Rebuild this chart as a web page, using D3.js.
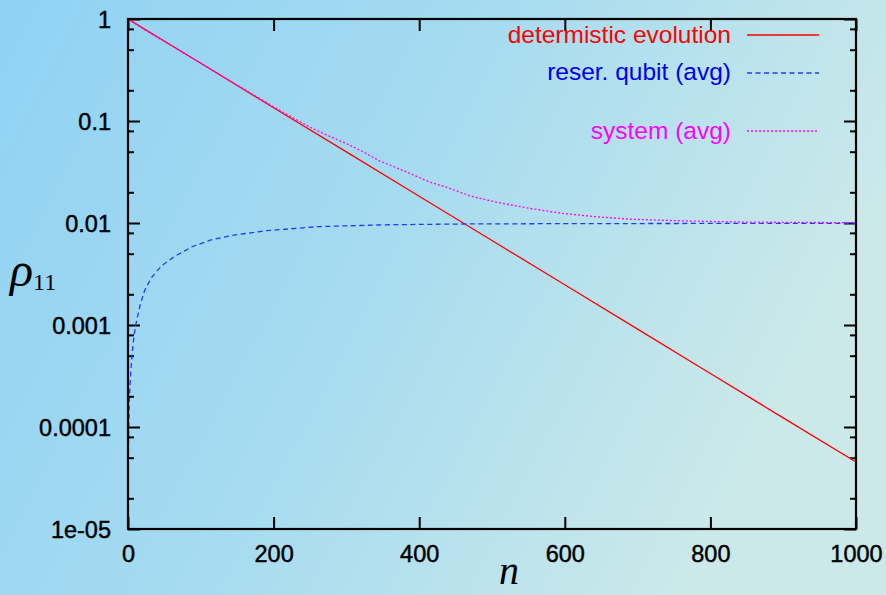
<!DOCTYPE html>
<html>
<head>
<meta charset="utf-8">
<script src="https://cdn.jsdelivr.net/npm/d3@7"></script>
<style>
  html, body { margin: 0; padding: 0; }
  svg { display: block; }
</style>
</head>
<body>
<svg id="chart" width="886" height="595"></svg>
<script>
// ---- data ----
const xTickValues = [0, 200, 400, 600, 800, 1000];
const yTickValues = [1e-5, 1e-4, 1e-3, 1e-2, 1e-1, 1];
const yTickLabels = ["1e-05", "0.0001", "0.001", "0.01", "0.1", "1"];
const yMinorTicks = [2e-5, 5e-5, 8e-5, 2e-4, 5e-4, 8e-4, 2e-3, 5e-3, 8e-3, 2e-2, 5e-2, 8e-2, 0.2, 0.5, 0.8];

const seriesNames = ["determistic evolution", "reser. qubit (avg)", "system (avg)"];

const nDet = [0, 100, 200, 300, 400, 500, 600, 700, 800, 900, 1000];
const vDet = [1, 0.368, 0.135, 0.0498, 0.0183, 0.00674, 0.00248, 0.000912, 0.000335, 0.000123, 0.0000454];

const nRes = [0.15, 0.5, 1, 2, 4, 7, 10, 13, 17, 23, 32, 46, 64, 88, 113, 145, 190, 260, 350, 460, 600, 800, 1000];
const vRes = [0.000012, 0.000048, 0.0001, 0.0002, 0.00037, 0.00066, 0.00095, 0.0012, 0.0016, 0.0022, 0.0029, 0.0038, 0.0047, 0.00585, 0.0068, 0.0076, 0.0084, 0.0092, 0.0096, 0.00978, 0.00986, 0.0099, 0.00992];

const nSys = [0, 23, 60, 100, 150, 170, 200, 229, 250, 275, 300, 320, 346, 370, 392, 415, 438, 470, 506, 552, 598, 644, 690, 758, 850, 1000];
const vSys = [1, 0.78, 0.545, 0.37, 0.225, 0.185, 0.138, 0.105, 0.087, 0.0718, 0.06, 0.0512, 0.0405, 0.0345, 0.0296, 0.0251, 0.0224, 0.0184, 0.016, 0.0139, 0.0124, 0.0115, 0.0109, 0.0105, 0.0102, 0.01007];

// ---- layout ----
const W = 886, H = 595;
const L = 128, R = 856, T = 19, B = 529;
const svg = d3.select("#chart");

const defs = svg.append("defs");
const grad = defs.append("linearGradient").attr("id", "bg")
  .attr("x1", 0).attr("y1", 0).attr("x2", 1).attr("y2", 0.35);
grad.append("stop").attr("offset", 0).attr("stop-color", "#90d2f4");
grad.append("stop").attr("offset", 0.5).attr("stop-color", "#a6dbf0");
grad.append("stop").attr("offset", 1).attr("stop-color", "#cbe9e9");
defs.append("clipPath").attr("id", "clip")
  .append("rect").attr("x", L).attr("y", T).attr("width", R - L).attr("height", B - T);

svg.append("rect").attr("width", W).attr("height", H).attr("fill", "url(#bg)");

const x = d3.scaleLinear().domain([0, 1000]).range([L, R]);
const y = d3.scaleLog().domain([1e-5, 1]).range([B, T]);

const tickFont = "'Liberation Sans', Arial, Helvetica, sans-serif";
const fs = 23.5;

function styleAxis(g) {
  g.select(".domain").remove();
  g.selectAll(".tick line").attr("stroke", "#000").attr("stroke-width", 2);
  g.selectAll(".tick text").attr("fill", "#000")
    .attr("stroke", "#000").attr("stroke-width", 0.45)
    .style("font-family", tickFont).style("font-size", fs + "px");
}

// bottom axis with labels
svg.append("g").attr("transform", `translate(0,${B})`)
  .call(d3.axisBottom(x).tickValues(xTickValues).tickSizeInner(-12).tickSizeOuter(0)
    .tickPadding(16).tickFormat(d3.format("d")))
  .call(styleAxis);
// top axis, ticks only
svg.append("g").attr("transform", `translate(0,${T})`)
  .call(d3.axisTop(x).tickValues(xTickValues).tickSizeInner(-12).tickSizeOuter(0).tickFormat(""))
  .call(styleAxis);
// left axis major
svg.append("g").attr("transform", `translate(${L},0)`)
  .call(d3.axisLeft(y).tickValues(yTickValues).tickSizeInner(-12).tickSizeOuter(0)
    .tickPadding(17).tickFormat(d => yTickLabels[yTickValues.indexOf(d)]))
  .call(styleAxis)
  .selectAll(".tick text").attr("dy", "0.37em");
// left axis minor
svg.append("g").attr("transform", `translate(${L},0)`)
  .call(d3.axisLeft(y).tickValues(yMinorTicks).tickSizeInner(-6).tickSizeOuter(0).tickFormat(""))
  .call(styleAxis);
// right axis major + minor
svg.append("g").attr("transform", `translate(${R},0)`)
  .call(d3.axisRight(y).tickValues(yTickValues).tickSizeInner(-12).tickSizeOuter(0).tickFormat(""))
  .call(styleAxis);
svg.append("g").attr("transform", `translate(${R},0)`)
  .call(d3.axisRight(y).tickValues(yMinorTicks).tickSizeInner(-6).tickSizeOuter(0).tickFormat(""))
  .call(styleAxis);

// series
const line = d3.line().x(d => x(d[0])).y(d => y(d[1]));
const plot = svg.append("g").attr("clip-path", "url(#clip)");
const series = [
  { n: nDet, v: vDet, color: "#ff0000", dash: null },
  { n: nRes, v: vRes, color: "#1a3cff", dash: "5,3.5" },
  { n: nSys, v: vSys, color: "#ff00ff", dash: "2,2" }
];
series.forEach(s => {
  plot.append("path")
    .datum(s.n.map((nv, i) => [nv, s.v[i]]))
    .attr("d", line)
    .attr("fill", "none")
    .attr("stroke", s.color)
    .attr("stroke-width", 1.3)
    .attr("stroke-dasharray", s.dash);
});

// frame
svg.append("rect").attr("x", L).attr("y", T).attr("width", R - L).attr("height", B - T)
  .attr("fill", "none").attr("stroke", "#000").attr("stroke-width", 2.2);

// legend
const legendText = ["#ff0000", "#0000ee", "#ff00ff"];
const legendBase = [43, 80, 139];
const legendLineY = [35, 73, 131];
seriesNames.forEach((name, i) => {
  svg.append("text").attr("x", 731).attr("y", legendBase[i])
    .attr("text-anchor", "end").attr("fill", legendText[i])
    .style("font-family", tickFont).style("font-size", "24.5px")
    .text(name);
  svg.append("line").attr("x1", 747).attr("x2", 819)
    .attr("y1", legendLineY[i]).attr("y2", legendLineY[i])
    .attr("stroke", series[i].color).attr("stroke-width", 1.3)
    .attr("stroke-dasharray", series[i].dash);
});

// axis titles
const yl = svg.append("text").attr("x", 10).attr("y", 286)
  .style("font-family", "'Liberation Serif', 'Times New Roman', serif")
  .attr("fill", "#000");
yl.append("tspan").style("font-style", "italic").style("font-size", "48px").text("ρ");
yl.append("tspan").attr("dy", 4).style("font-size", "24px").text("11");

svg.append("text").attr("x", 509).attr("y", 584).attr("text-anchor", "middle")
  .style("font-family", "'Liberation Serif', 'Times New Roman', serif")
  .style("font-style", "italic").style("font-size", "40px").attr("fill", "#000")
  .text("n");
</script>
</body>
</html>
